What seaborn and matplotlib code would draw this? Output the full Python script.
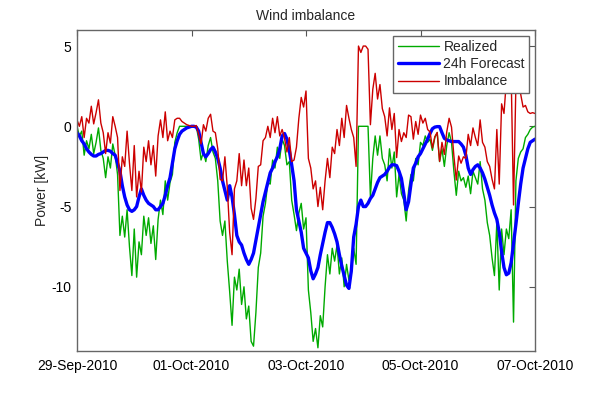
import numpy as np
import pandas as pd
import matplotlib
matplotlib.use("Agg")
import matplotlib.pyplot as plt
import matplotlib.dates as mdates
import seaborn as sns

# Hourly samples, 29-Sep-2010 00:00 .. 07-Oct-2010 00:00
start = "2010-09-29 00:00"
end = "2010-10-07 00:00"

realized = [
    # 29-Sep
    0.0, -0.6, -0.3, -1.8, -0.9, -1.4, -0.5, -1.7, -1.0, -0.1, -1.5, -2.0,
    -3.2, -1.9, -2.6, -1.1, -1.8, -3.0, -6.8, -5.6, -6.9, -5.2, -7.5, -9.3,
    # 30-Sep
    -6.4, -9.4, -7.2, -8.0, -5.6, -6.8, -5.7, -7.3, -6.2, -8.3, -5.8, -4.6,
    -5.5, -3.4, -4.6, -3.5, -3.0, -1.0, -0.4, 0.0, 0.0, 0.0, 0.0, 0.0,
    # 01-Oct
    0.0, 0.0, 0.0, -0.8, -2.1, -1.6, -2.2, -1.2, -0.7, -1.6, -2.0, -3.4,
    -5.9, -6.8, -5.9, -8.4, -10.3, -12.4, -9.4, -10.2, -8.9, -11.1, -10.0, -12.0,
    # 02-Oct
    -11.2, -13.4, -13.7, -11.6, -8.8, -7.9, -5.6, -4.8, -3.5, -3.6, -2.1, -2.6,
    -1.3, -2.0, -0.8, -1.2, -2.4, -2.2, -4.6, -5.5, -6.5, -5.4, -4.8, -6.4,
    # 03-Oct
    -5.7, -10.2, -11.6, -13.4, -12.6, -13.8, -11.8, -12.5, -10.0, -8.0, -9.2, -7.6,
    -8.4, -7.4, -9.2, -8.2, -10.0, -8.6, -9.6, -9.2, -7.6, -8.6, 0.0, 0.0,
    # 04-Oct
    0.0, 0.0, 0.0, -4.4, -2.0, -0.6, -1.8, -0.6, -2.0, -2.4, -3.4, -1.4,
    -2.6, -1.6, -4.4, -3.0, -4.2, -4.6, -5.9, -4.0, -3.0, -3.4, -2.0, -2.4,
    # 05-Oct
    -1.0, -1.2, -0.6, -1.0, -0.8, -1.5, -0.7, -0.4, -2.2, -1.4, -2.5, -1.2,
    -0.4, -1.0, -2.8, -4.3, -2.8, -3.4, -3.2, -3.8, -3.1, -4.2, -2.8, -3.2,
    # 06-Oct
    -3.6, -2.2, -3.9, -4.6, -6.0, -6.8, -8.2, -9.3, -6.0, -10.2, -6.4, -8.0,
    -6.4, -7.0, -5.2, -12.2, -3.4, -2.0, -1.6, -1.4, -0.7, -0.5, -0.2, -0.05,
    # 07-Oct 00:00
    0.0,
]

forecast = [
    -0.4, -0.6, -0.9, -1.1, -1.4, -1.6, -1.75, -1.85, -1.85, -1.75,
    -1.7, -1.6, -1.5, -1.5, -1.55, -1.7, -1.8, -2.3, -2.8, -3.7,
    -4.4, -4.9, -5.2, -5.3, -5.2, -5.0, -4.4, -3.9, -4.3, -4.6,
    -4.8, -4.9, -5.0, -5.2, -5.2, -5.0, -4.8, -4.3, -3.7, -3.2,
    -2.3, -1.4, -0.9, -0.5, -0.3, -0.2, -0.1, -0.05, 0.0,
    0.0, -0.05, -0.3, -1.0, -1.7, -1.9, -1.7, -1.45, -1.3, -1.6,
    -2.0, -2.6, -3.4, -4.0, -4.6, -3.7, -4.4, -5.5, -6.8, -7.2,
    -7.4, -7.9, -8.3, -8.6, -8.3, -7.9, -7.1, -6.3, -5.5, -4.7,
    -4.1, -3.5, -2.9, -2.6, -2.2, -1.9, -1.4, -0.6, -0.45, -0.8,
    -1.5, -2.4, -3.4, -5.2, -5.9, -6.6, -7.6, -7.9,
    -8.2, -9.0, -9.5, -9.2, -8.8, -8.0, -7.3, -6.6, -6.0, -6.0,
    -6.3, -6.7, -7.2, -8.0, -8.7, -9.3, -9.9, -10.1, -9.0, -6.9,
    -6.1, -5.0, -4.6, -5.0, -5.0, -4.8, -4.5, -4.3, -3.9, -3.5,
    -3.2, -3.1, -3.0, -2.8, -2.55, -2.4, -2.4, -2.45, -2.8, -3.25,
    -4.2, -5.2, -4.7, -3.6, -2.6, -2.3, -1.9, -1.7,
    -1.4, -1.1, -0.8, -0.45, -0.15, -0.05, -0.02, -0.02, -0.4, -0.75,
    -0.85, -0.9, -0.95, -0.95, -0.95, -0.95, -1.1, -1.3, -1.8, -2.6,
    -3.0, -2.7, -2.5, -2.4, -2.6, -2.9, -3.3, -3.8, -4.3, -4.9,
    -5.4, -5.8, -6.6, -7.8, -8.8, -9.25, -9.15, -8.5, -7.3, -6.1,
    -4.8, -3.6, -2.6, -2.0, -1.4, -1.0, -0.9, -0.8,
]

labels = ["Realized", "24h Forecast", "Imbalance"]
colors = ["#00aa00", "#0000ff", "#cc0000"]

times = pd.date_range(start, end, freq="h")
df = pd.DataFrame({
    "time": times,
    "Realized": np.array(realized),
    "24h Forecast": np.array(forecast),
})
# Imbalance = realized production minus its 24h forecast
df["Imbalance"] = df["Realized"] - df["24h Forecast"]

sns.set_theme(style="white")
plt.rcParams["font.family"] = ["Liberation Sans", "DejaVu Sans"]
plt.rcParams["xtick.direction"] = "in"
plt.rcParams["ytick.direction"] = "in"

fig = plt.figure(figsize=(5.92, 3.95), dpi=100)
ax = fig.add_axes([77 / 592, 1 - 351 / 395, 458 / 592, 321 / 395])

widths = [1.0, 2.4, 1.0]
for name, col, lw in zip(labels, colors, widths):
    sns.lineplot(data=df, x="time", y=name, ax=ax, color=col, linewidth=lw, label=name)

ax.set_xlim(pd.Timestamp(start), pd.Timestamp(end))
ax.set_ylim(-14, 6)
ax.set_xticks(pd.date_range(start, end, freq="2D"))
ax.xaxis.set_major_formatter(mdates.DateFormatter("%d-%b-%Y"))
ax.set_yticks([-10, -5, 0, 5])
ax.set_yticklabels(["-10", "-5", "0", "5"])
ax.tick_params(axis="both", which="both", direction="in", length=4, width=0.8,
               color="#555555", top=True, right=True, labelsize=10,
               labelcolor="black")
ax.tick_params(axis="x", pad=6)
ax.tick_params(axis="y", pad=4)
for s in ax.spines.values():
    s.set_color("#666666")
    s.set_linewidth(1.0)

ax.set_xlabel("")
ax.set_ylabel("Power [kW]", fontsize=10, labelpad=2)
ax.set_title("Wind imbalance", fontsize=10, pad=7)

leg = ax.legend(loc="upper right", bbox_to_anchor=(0.987, 0.981), fontsize=10,
                frameon=True, fancybox=False, framealpha=1, edgecolor="#666666",
                handlelength=3.0, handletextpad=0.3, labelspacing=0.22,
                borderpad=0.3, borderaxespad=0)
leg.get_frame().set_linewidth(1.0)

fig.savefig("out.png", dpi=100)
